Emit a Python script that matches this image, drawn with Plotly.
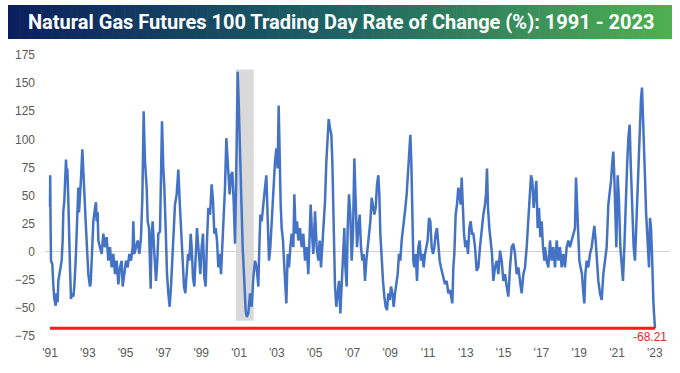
import plotly.graph_objects as go

# ---- data ----
years = [
    1991.00, 1991.01, 1991.03, 1991.053, 1991.123, 1991.176, 1991.229, 1991.300, 1991.353, 1991.405,
    1991.441, 1991.529, 1991.617, 1991.670, 1991.705, 1991.758, 1991.793, 1991.846, 1991.882, 1991.917,
    1991.970, 1992.005, 1992.058, 1992.111, 1992.182, 1992.235, 1992.287, 1992.358, 1992.411, 1992.464,
    1992.499, 1992.534, 1992.587, 1992.640, 1992.711, 1992.764, 1992.816, 1992.852, 1992.887, 1992.940,
    1992.993, 1993.028, 1993.116, 1993.152, 1993.205, 1993.257, 1993.293, 1993.381, 1993.434, 1993.469,
    1993.522, 1993.557, 1993.646, 1993.734, 1993.822, 1993.910, 1993.998, 1994.086, 1994.175, 1994.263,
    1994.351, 1994.439, 1994.527, 1994.616, 1994.704, 1994.792, 1994.845, 1994.933, 1995.021, 1995.109,
    1995.198, 1995.286, 1995.374, 1995.409, 1995.462, 1995.550, 1995.639, 1995.727, 1995.815, 1995.886,
    1995.921, 1995.956, 1995.991, 1996.027, 1996.115, 1996.168, 1996.238, 1996.291, 1996.326, 1996.379,
    1996.432, 1996.503, 1996.556, 1996.609, 1996.679, 1996.732, 1996.820, 1996.873, 1996.926, 1996.997,
    1997.049, 1997.120, 1997.191, 1997.261, 1997.332, 1997.402, 1997.473, 1997.543, 1997.614, 1997.702,
    1997.790, 1997.861, 1997.914, 1997.967, 1998.020, 1998.090, 1998.161, 1998.231, 1998.302, 1998.372,
    1998.443, 1998.496, 1998.566, 1998.637, 1998.707, 1998.778, 1998.849, 1998.901, 1998.954, 1999.025,
    1999.095, 1999.166, 1999.236, 1999.307, 1999.378, 1999.466, 1999.554, 1999.625, 1999.695, 1999.766,
    1999.836, 1999.907, 1999.977, 2000.048, 2000.118, 2000.189, 2000.260, 2000.330, 2000.383, 2000.436,
    2000.506, 2000.577, 2000.647, 2000.718, 2000.789, 2000.842, 2000.894, 2000.930, 2000.983, 2001.036,
    2001.089, 2001.141, 2001.194, 2001.247, 2001.300, 2001.353, 2001.406, 2001.494, 2001.583, 2001.671,
    2001.759, 2001.847, 2001.935, 2002.023, 2002.076, 2002.129, 2002.200, 2002.288, 2002.376, 2002.447,
    2002.517, 2002.588, 2002.658, 2002.729, 2002.817, 2002.905, 2002.976, 2003.046, 2003.099, 2003.152,
    2003.205, 2003.258, 2003.328, 2003.399, 2003.452, 2003.505, 2003.575, 2003.646, 2003.716, 2003.787,
    2003.875, 2003.928, 2003.999, 2004.069, 2004.140, 2004.228, 2004.316, 2004.404, 2004.493, 2004.581,
    2004.669, 2004.740, 2004.792, 2004.863, 2004.933, 2005.022, 2005.110, 2005.198, 2005.269, 2005.339,
    2005.410, 2005.480, 2005.551, 2005.621, 2005.692, 2005.745, 2005.815, 2005.886, 2005.939, 2005.974,
    2006.027, 2006.080, 2006.150, 2006.221, 2006.292, 2006.362, 2006.433, 2006.503, 2006.574, 2006.609,
    2006.697, 2006.750, 2006.820, 2006.891, 2006.961, 2007.032, 2007.102, 2007.173, 2007.244, 2007.314,
    2007.385, 2007.455, 2007.526, 2007.596, 2007.667, 2007.737, 2007.808, 2007.878, 2007.949, 2008.019,
    2008.090, 2008.161, 2008.231, 2008.302, 2008.372, 2008.425, 2008.478, 2008.549, 2008.619, 2008.690,
    2008.760, 2008.831, 2008.901, 2008.972, 2009.043, 2009.113, 2009.184, 2009.254, 2009.325, 2009.395,
    2009.466, 2009.536, 2009.607, 2009.695, 2009.783, 2009.871, 2009.942, 2010.013, 2010.066, 2010.118,
    2010.171, 2010.224, 2010.277, 2010.348, 2010.418, 2010.489, 2010.559, 2010.630, 2010.700, 2010.771,
    2010.841, 2010.912, 2010.982, 2011.053, 2011.124, 2011.194, 2011.265, 2011.335, 2011.406, 2011.476,
    2011.547, 2011.617, 2011.688, 2011.758, 2011.829, 2011.900, 2011.988, 2012.076, 2012.164, 2012.288,
    2012.341, 2012.393, 2012.464, 2012.535, 2012.605, 2012.658, 2012.729, 2012.782, 2012.834, 2012.905,
    2012.976, 2013.046, 2013.117, 2013.187, 2013.258, 2013.328, 2013.399, 2013.487, 2013.575, 2013.663,
    2013.751, 2013.840, 2013.928, 2014.016, 2014.069, 2014.122, 2014.175, 2014.245, 2014.316, 2014.386,
    2014.457, 2014.545, 2014.633, 2014.722, 2014.810, 2014.898, 2014.986, 2015.074, 2015.163, 2015.251,
    2015.339, 2015.427, 2015.515, 2015.604, 2015.692, 2015.780, 2015.868, 2015.956, 2016.045, 2016.133,
    2016.221, 2016.309, 2016.397, 2016.450, 2016.521, 2016.591, 2016.662, 2016.732, 2016.803, 2016.873,
    2016.944, 2017.015, 2017.085, 2017.156, 2017.191, 2017.279, 2017.367, 2017.455, 2017.543, 2017.632,
    2017.720, 2017.808, 2017.896, 2017.984, 2018.072, 2018.161, 2018.249, 2018.337, 2018.425, 2018.513,
    2018.601, 2018.690, 2018.778, 2018.831, 2018.884, 2018.936, 2019.007, 2019.078, 2019.148, 2019.219,
    2019.272, 2019.325, 2019.395, 2019.483, 2019.571, 2019.660, 2019.748, 2019.801, 2019.871, 2019.942,
    2020.012, 2020.101, 2020.189, 2020.277, 2020.365, 2020.453, 2020.542, 2020.612, 2020.683, 2020.753,
    2020.806, 2020.859, 2020.912, 2020.965, 2021.035, 2021.106, 2021.176, 2021.247, 2021.317, 2021.388,
    2021.458, 2021.529, 2021.599, 2021.670, 2021.723, 2021.776, 2021.829, 2021.882, 2021.952, 2022.005,
    2022.058, 2022.111, 2022.164, 2022.217, 2022.270, 2022.323, 2022.376, 2022.429, 2022.482, 2022.535,
    2022.588, 2022.641, 2022.693, 2022.746, 2022.799, 2022.852, 2022.888, 2022.923, 2022.958, 2023.011,
]
roc = [
    40, 68, 25, -8, -11, -30, -42, -48, -37, -45,
    -26, -17, -8, 10, 36, 45, 57, 82, 70, 74,
    45, 13, -14, -42, -37, -40, -31, -8, 21, 45,
    57, 35, 57, 65, 91, 66, 55, 40, 27, 4,
    -10, -20, -31, -28, -8, 15, 27, 39, 44, 27,
    35, 10, 4, -2, 16, 4, 13, -8, 4, -14,
    -2, -20, -8, -29, -14, -8, -31, -20, -8, -14,
    -2, -8, 4, 27, -2, 4, 10, -2, 13, 48,
    101, 125, 100, 80, 57, 27, 21, -20, -33, 16,
    27, 4, -14, -26, -8, 16, 18, 80, 116, 74,
    57, 21, -20, -37, -49, -31, -8, 21, 42, 51,
    73, 45, 27, -2, -20, -31, -37, -20, -2, -8,
    16, 4, -23, -31, 4, 21, 4, -14, -20, 4,
    16, -23, -31, 10, 39, 33, 60, 45, 16, 21,
    10, -14, -2, -20, 4, 27, 57, 101, 86, 63,
    51, 68, 71, 45, 7, 57, 124, 160, 133, 95,
    57, 21, 4, -14, -37, -52, -58, -55, -37, -49,
    -23, -8, -14, -31, 4, 33, 27, 45, 57, 68,
    21, -8, 4, 27, 45, 80, 92, 74, 130, 66,
    42, 21, 10, -14, -37, -46, -2, -14, 4, 16,
    4, 51, 16, 27, 10, 21, 4, 16, -8, 4,
    -20, 16, 42, 16, -2, 36, 4, -8, 10, -14,
    4, 21, 45, 80, 110, 118, 110, 104, 80, 45,
    4, -31, -49, -37, -26, -55, -31, -14, 21, -8,
    -31, 21, 51, 33, -8, 16, 83, 45, 4, 21,
    33, 4, -8, -2, -26, -8, 4, 16, 27, 48,
    42, 33, 39, 60, 68, 51, 16, -8, -26, -40,
    -49, -52, -37, -43, -31, -37, -49, -37, -26, -20,
    -2, -8, 10, 21, 36, 51, 71, 98, 104, 80,
    36, -8, -14, -2, -26, 4, 10, -8, -2, -14,
    -2, 4, 10, 30, 27, 4, -2, 4, 16, 21,
    4, -8, -14, -20, -26, -29, -26, -37, -34, -46,
    -14, -2, 33, 42, 57, 48, 42, 66, 36, 16,
    4, 10, -2, 21, 27, 16, 16, 4, -17, -14,
    4, 21, 33, 42, 51, 74, 39, 21, 10, -2,
    -26, -14, -8, -20, 1, -8, -26, -20, -31, -40,
    -14, 4, 7, -2, -20, -14, -26, -37, -20, -14,
    4, 27, 45, 68, 63, 39, 51, 63, 21, 39,
    13, 27, 4, -8, 4, -8, -14, 10, -8, 4,
    -14, 10, -8, 4, -14, -2, -14, 4, 10, 4,
    10, 16, 21, 66, 42, 21, -8, -14, -20, -37,
    -46, -20, -8, -14, -2, 4, 16, 23, 10, -14,
    -26, -37, -43, -20, -8, 4, 42, 51, 63, 80,
    89, 66, 36, 4, 68, 45, 4, -14, -26, 4,
    45, 74, 101, 113, 80, 51, 21, 4, -8, 16,
    45, 66, 92, 116, 136, 146, 124, 89, 66, 36,
    16, -2, -14, 30, 21, -2, -31, -43, -55, -68.21,
]
last_value = -68.21
shade_start, shade_end = 2000.84, 2001.78
shade_low, shade_high = -61.5, 162
tick_years = list(range(1991, 2024, 2))
tick_labels = ["'" + str(y)[2:] for y in tick_years]
y_ticks = list(range(-75, 176, 25))
title_text = "Natural Gas Futures 100 Trading Day Rate of Change (%): 1991 - 2023"

# ---- figure ----
W, H = 680, 373
ML, MR, MT, MB = 45, 10, 55, 37
plot_w = W - ML - MR
plot_h = H - MT - MB

fig = go.Figure()

fig.add_trace(go.Scatter(
    x=years, y=roc, mode="lines",
    line=dict(color="#4472C4", width=2.5),
    hoverinfo="skip", showlegend=False,
))
fig.add_trace(go.Scatter(
    x=[years[0], years[-1]], y=[last_value, last_value], mode="lines",
    line=dict(color="#FF1A1A", width=3),
    hoverinfo="skip", showlegend=False,
))

shapes = [dict(type="rect", xref="x", yref="y", x0=shade_start, x1=shade_end,
               y0=shade_low, y1=shade_high, fillcolor="#D9D9D9",
               line=dict(width=0), layer="below")]

# gradient title banner built from thin strips
bx0_px, bx1_px, by0_px, by1_px = 8, 672, 5, 39
def px_to_paper_x(px):
    return (px - ML) / plot_w
def px_to_paper_y(py):
    return (H - MB - py) / plot_h
c_left = (11, 31, 94)
c_mid = (30, 100, 100)
c_right = (78, 176, 82)
n = 120
for i in range(n):
    t = i / (n - 1)
    if t < 0.5:
        a, b, u = c_left, c_mid, t / 0.5
    else:
        a, b, u = c_mid, c_right, (t - 0.5) / 0.5
    col = tuple(int(round(a[k] + (b[k] - a[k]) * u)) for k in range(3))
    x0 = bx0_px + (bx1_px - bx0_px) * i / n
    x1 = bx0_px + (bx1_px - bx0_px) * (i + 1) / n + 0.6
    shapes.append(dict(type="rect", xref="paper", yref="paper",
                       x0=px_to_paper_x(x0), x1=px_to_paper_x(min(x1, bx1_px)),
                       y0=px_to_paper_y(by1_px), y1=px_to_paper_y(by0_px),
                       fillcolor="rgb(%d,%d,%d)" % col, line=dict(width=0),
                       layer="above"))

annotations = [
    dict(xref="paper", yref="paper",
         x=px_to_paper_x((bx0_px + bx1_px) / 2 + 1), y=px_to_paper_y((by0_px + by1_px) / 2),
         text="<b>" + title_text + "</b>", showarrow=False,
         xanchor="center", yanchor="middle",
         font=dict(family="Roboto, Liberation Sans", size=20, color="white")),
    dict(xref="x", yref="y", x=years[-1], y=last_value,
         text="%.2f" % last_value, showarrow=False,
         xanchor="center", yanchor="top", xshift=-5, yshift=-1, borderpad=0,
         font=dict(family="Liberation Sans, Arial", size=12, color="#E8261F")),
]

fig.update_layout(
    width=W, height=H,
    margin=dict(l=ML, r=MR, t=MT, b=MB),
    paper_bgcolor="white", plot_bgcolor="white",
    shapes=shapes, annotations=annotations,
    showlegend=False,
    xaxis=dict(range=[1991 - 5 / 18.9, 1991 + 620 / 18.9],
               tickvals=tick_years, ticktext=tick_labels,
               showgrid=False, zeroline=False, showline=False, ticks="",
               ticklabelstandoff=8,
               tickfont=dict(family="Liberation Sans, Arial", size=12, color="#595959")),
    yaxis=dict(range=[-75, 175], tickvals=y_ticks,
               showgrid=False, zeroline=True, zerolinecolor="#D0D0D0", zerolinewidth=1,
               showline=False, ticks="", ticklabelstandoff=9,
               tickfont=dict(family="Liberation Sans, Arial", size=12, color="#595959")),
)

fig.write_html("out.html", config={"displayModeBar": False},
               post_script="document.body.style.margin='0';document.body.style.overflow='hidden';")
